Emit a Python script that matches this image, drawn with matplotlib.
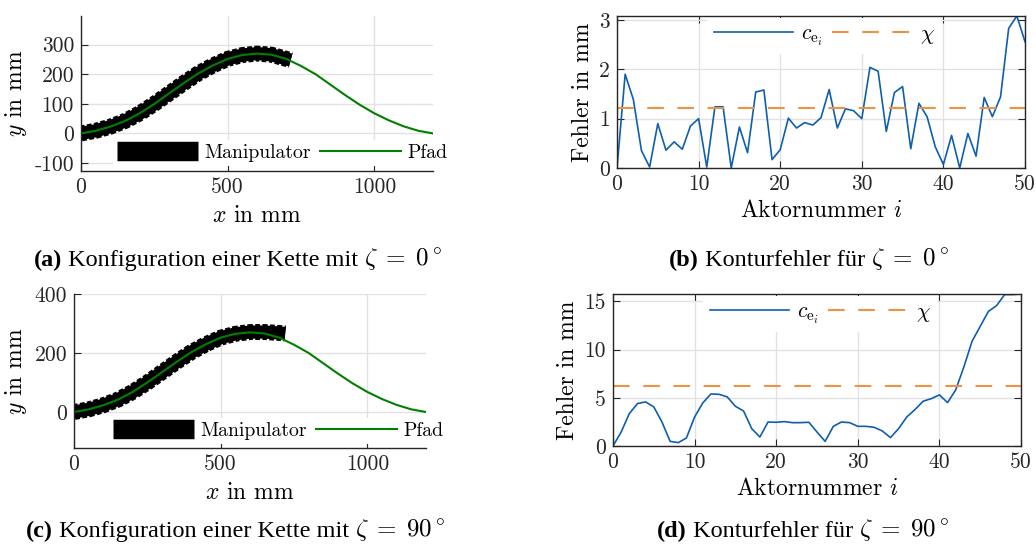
import matplotlib
matplotlib.use("Agg")
import matplotlib.pyplot as plt

plt.rcParams['font.family'] = ['cmr10', 'DejaVu Serif']
plt.rcParams['mathtext.fontset'] = 'cm'
plt.rcParams['axes.unicode_minus'] = False
plt.rcParams['axes.formatter.use_mathtext'] = False

# Pfad (Sollkontur) in mm
path_x = [0, 50, 100, 150, 200, 250, 300, 350, 400, 450, 500, 550, 600,
          650, 700, 750, 800, 850, 900, 950, 1000, 1050, 1100, 1150, 1200]
path_y = [0, 9, 23, 42, 68, 100, 135, 170, 203, 230, 252, 265, 270,
          266, 252, 228, 200, 165, 130, 97, 68, 44, 24, 9, 0]

# Mittellinie des Manipulators
mani_a_x = [0, 50, 100, 150, 200, 250, 300, 350, 400, 450, 500, 550, 600, 650, 700, 715]
mani_a_y = [0, 9, 23, 42, 68, 100, 135, 170, 203, 230, 252, 265, 270, 266, 252, 248]
mani_c_x = [0, 50, 100, 150, 200, 250, 300, 350, 400, 450, 500, 550, 600, 650, 700, 720]
mani_c_y = [0, 9, 23, 42, 68, 100, 135, 170, 203, 230, 252, 265, 271, 271, 268, 266]

# Konturfehler je Aktor
aktor = list(range(51))
err_b = [0, 1.90, 1.39, 0.35, 0.02, 0.90, 0.36, 0.53, 0.38, 0.85, 1.00,
         0.02, 1.24, 1.24, 0.0, 0.83, 0.31, 1.54, 1.58, 0.17, 0.37,
         1.01, 0.81, 0.92, 0.87, 1.02, 1.59, 0.81, 1.20, 1.16, 1.00,
         2.04, 1.96, 0.74, 1.53, 1.65, 0.39, 1.31, 1.04, 0.43, 0.07,
         0.66, 0.0, 0.70, 0.24, 1.43, 1.04, 1.44, 2.83, 3.08, 2.56]
err_d = [0, 1.45, 3.36, 4.40, 4.57, 4.05, 2.49, 0.48, 0.35, 0.83, 3.01,
         4.46, 5.40, 5.36, 5.09, 4.12, 3.63, 1.80, 0.93, 2.49, 2.46,
         2.53, 2.42, 2.42, 2.46, 1.45, 0.48, 2.04, 2.49, 2.42, 2.04,
         2.04, 1.94, 1.56, 0.87, 1.80, 3.01, 3.77, 4.64, 4.91, 5.30,
         4.50, 5.82, 8.20, 10.86, 12.40, 13.95, 14.55, 15.70, 15.70, 15.76]
chi_b = 1.21
chi_d = 6.2

BLUE = '#0F5FAE'
ORANGE = '#EE9244'
GREEN = '#008000'
GRID = '#E2E2E2'
W, H = 1036, 547


def ax_box(left, top, right, bottom):
    return [left / W, 1 - bottom / H, (right - left) / W, (bottom - top) / H]


def style(ax, box_on):
    ax.grid(True, color=GRID, linewidth=1.0)
    ax.set_axisbelow(True)
    for s in ax.spines.values():
        s.set_color('#262626')
        s.set_linewidth(1.0)
    if not box_on:
        ax.spines['top'].set_visible(False)
        ax.spines['right'].set_visible(False)
    ax.tick_params(direction='in', length=5, width=0.8, color='#262626',
                   labelsize=15.5, labelcolor='#262626', pad=5,
                   top=box_on, right=box_on)


fig = plt.figure(figsize=(W / 100, H / 100), dpi=100)


def config_plot(box, mx, my, ylim, yticks, leg_xy):
    ax = fig.add_axes(ax_box(*box))
    style(ax, False)
    # Glieder: Grundband plus kurze Querstriche fuer die Kanten
    ax.plot(mx, my, color='black', linewidth=9.5, solid_capstyle='butt',
            label='Manipulator')
    ax.plot(mx, my, color='black', linewidth=11.5, dash_capstyle='butt',
            linestyle=(0, (0.3, 0.15)))
    ax.plot(path_x, path_y, color=GREEN, linewidth=1.5, label='Pfad')
    ax.set_xlim(0, 1200)
    ax.set_ylim(*ylim)
    ax.set_xticks([0, 500, 1000])
    ax.set_yticks(yticks)
    ax.set_xlabel('$x$ in mm', fontsize=17, labelpad=5)
    ax.set_ylabel('$y$ in mm', fontsize=17, labelpad=4)
    leg = ax.legend(loc='center', bbox_to_anchor=(leg_xy[0] / W, 1 - leg_xy[1] / H),
                    bbox_transform=fig.transFigure, ncol=2, fontsize=14.2,
                    handlelength=4.1, handletextpad=0.3, columnspacing=0.5,
                    frameon=True, facecolor='white', edgecolor='none',
                    framealpha=1, fancybox=False, borderpad=0.2)
    leg.get_lines()[0].set_linewidth(14)
    return ax


def error_plot(box, err, chi, ylim, yticks, leg_xy):
    ax = fig.add_axes(ax_box(*box))
    style(ax, True)
    ax.plot(aktor, err, color=BLUE, linewidth=1.2, label=r'$c_{\mathrm{e}_i}$')
    ax.axhline(chi, color=ORANGE, linewidth=1.5, linestyle=(0, (8, 6.5)),
               label=r'$\chi$')
    ax.set_xlim(0, 50)
    ax.set_ylim(*ylim)
    ax.set_xticks([0, 10, 20, 30, 40, 50])
    ax.set_yticks(yticks)
    ax.set_xlabel('Aktornummer $i$', fontsize=17, labelpad=4)
    ax.set_ylabel('Fehler in mm', fontsize=17, labelpad=4)
    ax.legend(loc='center', bbox_to_anchor=(leg_xy[0] / W, 1 - leg_xy[1] / H),
              bbox_transform=fig.transFigure, ncol=2, fontsize=15.5,
              handlelength=3.7, handletextpad=0.35, columnspacing=0.45,
              frameon=True, facecolor='white', edgecolor='none',
              framealpha=1, fancybox=False, borderpad=0.3)
    return ax


config_plot((81, 16, 433, 171), mani_a_x, mani_a_y, (-127, 397),
            [-100, 0, 100, 200, 300], (282, 153))
config_plot((74, 294, 426, 448), mani_c_x, mani_c_y, (-122, 400),
            [0, 200, 400], (278, 431))
error_plot((617, 16, 1025, 168), err_b, chi_b, (0, 3.08), [0, 1, 2, 3], (824, 36))
error_plot((613, 294, 1021, 446), err_d, chi_d, (0, 15.76), [0, 5, 10, 15], (820, 314))

# Unterschriften der Teilbilder (zentriert unter dem jeweiligen Bild)
captions = [
    (238, 266, '(a)', ' Konfiguration einer Kette mit ', r'$\zeta\;=\;0^\circ$'),
    (809, 266, '(b)', ' Konturfehler für ', r'$\zeta\;=\;0^\circ$'),
    (236, 537, '(c)', ' Konfiguration einer Kette mit ', r'$\zeta\;=\;90^\circ$'),
    (803, 537, '(d)', ' Konturfehler für ', r'$\zeta\;=\;90^\circ$'),
]
fig.canvas.draw()
renderer = fig.canvas.get_renderer()
for xc, y, tag, words, math in captions:
    parts = [
        fig.text(0, 1 - y / H, tag, fontsize=17.5, weight='bold',
                 family='Liberation Serif', va='baseline', ha='left'),
        fig.text(0, 1 - y / H, words, fontsize=17.5,
                 family='Liberation Serif', va='baseline', ha='left'),
        fig.text(0, 1 - y / H, math, fontsize=18, va='baseline', ha='left'),
    ]
    widths = [p.get_window_extent(renderer).width for p in parts]
    x = xc - sum(widths) / 2
    for p, w in zip(parts, widths):
        p.set_x(x / W)
        x += w

fig.savefig('out.png', dpi=100)
